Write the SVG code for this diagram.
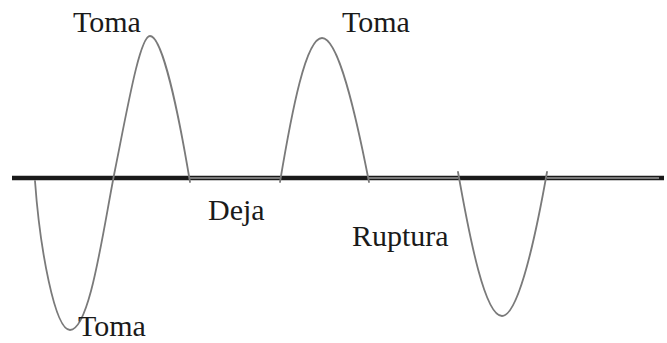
<svg xmlns="http://www.w3.org/2000/svg" width="667" height="343" viewBox="0 0 667 343">
<style>
.t{font-family:"Liberation Serif","Times New Roman",serif;font-size:30px;fill:#1a1a1a}
.w{fill:none;stroke:#7a7a7a;stroke-width:1.8;stroke-linecap:round}
</style>
<rect width="667" height="343" fill="#fff"/>
<g id="axis">
<line x1="12" y1="178" x2="664" y2="178" stroke="#1a1a1a" stroke-width="4.5"/>
<g stroke="#9a9a9a" stroke-width="1.6">
<line x1="190" y1="178" x2="280" y2="178"/>
<line x1="369" y1="178" x2="458" y2="178"/>
<line x1="547" y1="178" x2="659" y2="178"/>
</g>
</g>
<g id="connectors">
<path class="w" d="M35,181 C40,250 55,330 70,330 C90,330 103,230 115,170 C128,105 140,36 150,36 C162,36 178,110 190,182"/>
<path class="w" d="M280,182 C292,110 306,38 322,38 C338,38 355,110 369,182"/>
<path class="w" d="M458,172 C470,240 485,316 502,316 C518,316 535,240 547,172"/>
</g>
<g id="toma1"><text class="t" x="73" y="32">Toma</text></g>
<g id="toma2"><text class="t" x="342" y="32">Toma</text></g>
<g id="toma3"><text class="t" x="78" y="336">Toma</text></g>
<g id="deja"><text class="t" x="208" y="220">Deja</text></g>
<g id="ruptura"><text class="t" x="352" y="246">Ruptura</text></g>
</svg>
